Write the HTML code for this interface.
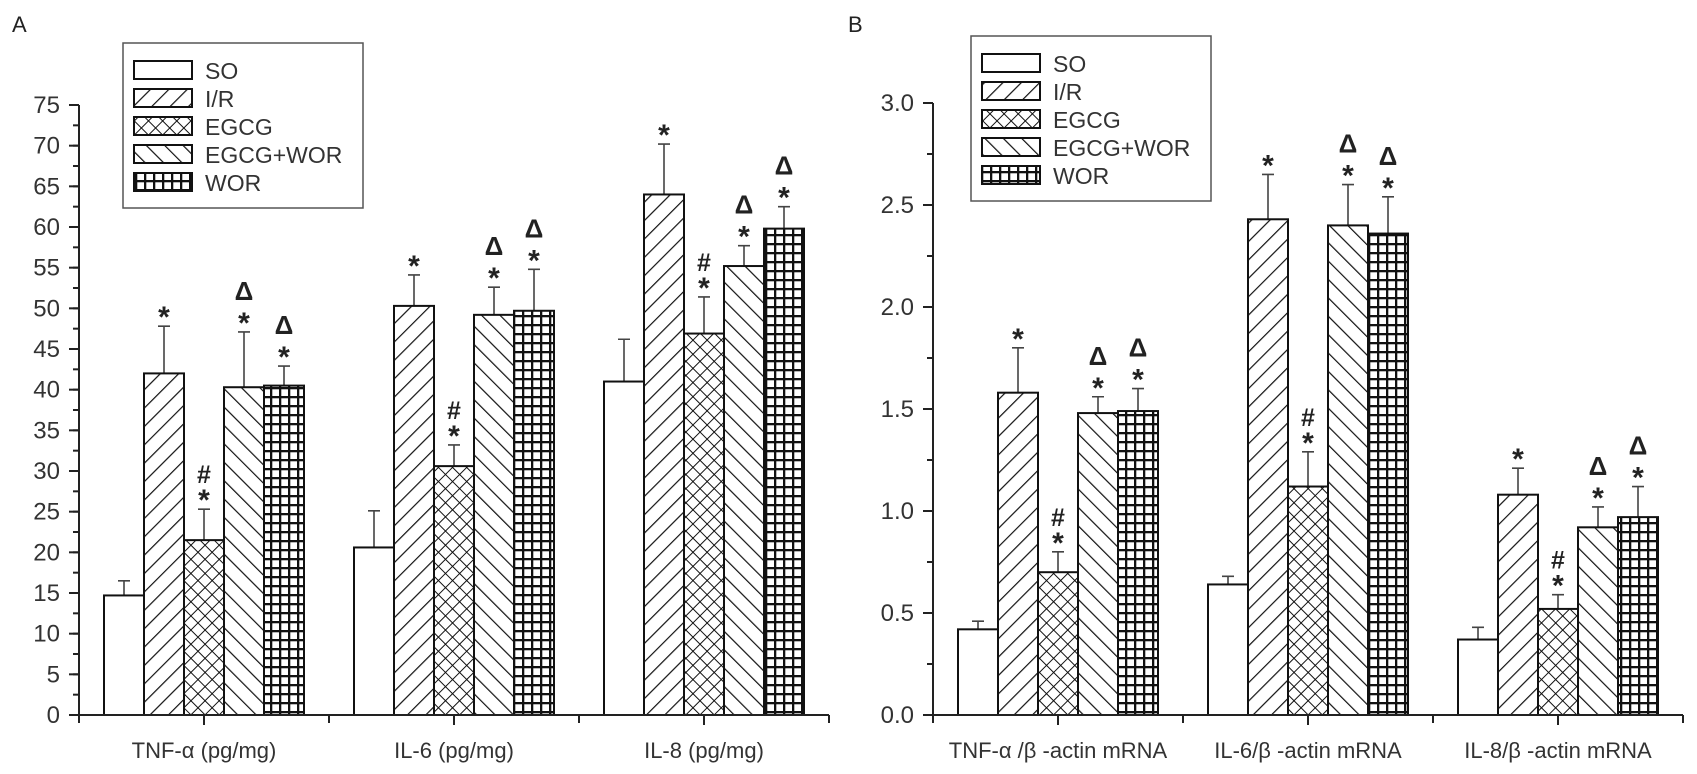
<!DOCTYPE html>
<html><head><meta charset="utf-8"><style>
html,body{margin:0;padding:0;background:#fff;}
svg{display:block;font-family:"Liberation Sans",Arial,sans-serif;}
</style></head><body>
<svg id="chart" width="1697" height="774" viewBox="0 0 1697 774" xmlns="http://www.w3.org/2000/svg">
<defs>
<pattern id="p-ir" patternUnits="userSpaceOnUse" width="13" height="13" patternTransform="rotate(45)"><rect width="13" height="13" fill="#fff"/><line x1="0" y1="0" x2="0" y2="13" stroke="#111" stroke-width="2.4"/></pattern>
<pattern id="p-egcg" patternUnits="userSpaceOnUse" width="10" height="10" patternTransform="rotate(45)"><rect width="10" height="10" fill="#fff"/><line x1="0" y1="0" x2="0" y2="10" stroke="#111" stroke-width="2"/><line x1="0" y1="0" x2="10" y2="0" stroke="#111" stroke-width="2"/></pattern>
<pattern id="p-ew" patternUnits="userSpaceOnUse" width="13" height="13" patternTransform="rotate(-45)"><rect width="13" height="13" fill="#fff"/><line x1="0" y1="0" x2="0" y2="13" stroke="#111" stroke-width="2.4"/></pattern>
<pattern id="p-wor" patternUnits="userSpaceOnUse" width="9" height="9"><rect width="9" height="9" fill="#fff"/><line x1="1" y1="0" x2="1" y2="9" stroke="#111" stroke-width="2.6"/><line x1="0" y1="1" x2="9" y2="1" stroke="#111" stroke-width="2.6"/></pattern>
</defs>
</svg>
<script>
const groups = ["SO","I/R","EGCG","EGCG+WOR","WOR"];
const catsA = ["TNF-α (pg/mg)","IL-6 (pg/mg)","IL-8 (pg/mg)"];
const catsB = ["TNF-α /β -actin mRNA","IL-6/β -actin mRNA","IL-8/β -actin mRNA"];
// values[category][group]
const meanA = [[14.7,42.0,21.5,40.3,40.5],[20.6,50.3,30.6,49.2,49.7],[41.0,64.0,46.9,55.2,59.8]];
const errA  = [[16.5,47.8,25.3,47.1,42.9],[25.1,54.1,33.2,52.6,54.8],[46.2,70.2,51.4,57.7,62.5]];
const meanB = [[0.42,1.58,0.70,1.48,1.49],[0.64,2.43,1.12,2.40,2.36],[0.37,1.08,0.52,0.92,0.97]];
const errB  = [[0.46,1.80,0.80,1.56,1.60],[0.68,2.65,1.29,2.60,2.54],[0.43,1.21,0.59,1.02,1.12]];
const ticksA = [0,5,10,15,20,25,30,35,40,45,50,55,60,65,70,75];
const ticksB = ["0.0","0.5","1.0","1.5","2.0","2.5","3.0"];
const marks = [[],["*"],["*","#"],["*","Δ"],["*","Δ"]];

const NS="http://www.w3.org/2000/svg";
const svg=document.getElementById('chart');
const fills=["#fff","url(#p-ir)","url(#p-egcg)","url(#p-ew)","url(#p-wor)"];
function el(tag,attrs,parent){const e=document.createElementNS(NS,tag);for(const k in attrs)e.setAttribute(k,attrs[k]);(parent||svg).appendChild(e);return e;}
function txt(s,attrs,parent){const t=el('text',attrs,parent);t.textContent=s;return t;}

function panel(id,x0,y0,ytop,ymax,tickVals,minorStep,cats,mean,err,label,labelX,legX,legY){
  const g=el('g',{});
  
  
  const catW=250, W=750;
  const yS=v=>y0-(v/ymax)*(y0-ytop);
  const xS=(c,s)=>x0+c*catW+25+s*40;
  const pl=txt(label,{x:labelX,y:32,'font-size':22,fill:'#222'},g);
  
  
  for(let c=0;c<cats.length;c++){
    for(let s=0;s<groups.length;s++){
      const x=xS(c,s), yt=yS(mean[c][s]), ye=yS(err[c][s]), cx=x+20;
      const eb=el('path',{d:`M${cx},${yt}V${ye}M${cx-6},${ye}H${cx+6}`,stroke:'#444','stroke-width':1.6,fill:'none'},g);
      
      
      const r=el('rect',{x:x,y:yt,width:40,height:y0-yt,fill:fills[s],stroke:'#111','stroke-width':2},g);
      
      
      const m=marks[s];
      if(m.length){
        const st=txt('*',{x:cx,y:ye+1,'text-anchor':'middle','font-size':30,'font-weight':'bold',fill:'#222'},g);
        
        
        if(m.length>1){
          const sy=m[1]==='#'?ye-26:ye-32;
          const s2=txt(m[1],{x:cx,y:sy,'text-anchor':'middle','font-size':m[1]==='#'?25:26,'font-weight':'bold',fill:'#222'},g);
          
          
        }
      }
    }
  }
  const ax=el('path',{d:`M${x0},${ytop}V${y0}H${x0+W}`,stroke:'#222','stroke-width':2,fill:'none'},g);
  
  
  for(let v=0;v<=ymax+1e-9;v+=minorStep){
    const y=yS(v);
    el('line',{x1:x0-6,x2:x0,y1:y,y2:y,stroke:'#222','stroke-width':2},g);
  }
  tickVals.forEach(t=>{
    const y=yS(parseFloat(t));
    el('line',{x1:x0-10,x2:x0,y1:y,y2:y,stroke:'#222','stroke-width':2},g);
    const tl=txt(String(t),{x:x0-19,y:y+8,'text-anchor':'end','font-size':24,fill:'#333'},g);
    
    
  });
  for(let c=0;c<=cats.length;c++){
    const xx=x0+c*catW;
    el('line',{x1:xx,x2:xx,y1:y0,y2:y0+8,stroke:'#222','stroke-width':2},g);
  }
  cats.forEach((cn,c)=>{
    const xx=x0+c*catW+catW/2;
    el('line',{x1:xx,x2:xx,y1:y0,y2:y0+10,stroke:'#222','stroke-width':2},g);
    const cl=txt(cn,{x:xx,y:758,'text-anchor':'middle','font-size':22,fill:'#333'},g);
    
    
  });
  const lg=el('g',{},g);
  
  
  el('rect',{x:legX,y:legY,width:240,height:165,fill:'#fff',stroke:'#555','stroke-width':1.5},lg);
  groups.forEach((gn,i)=>{
    const yy=legY+18+i*28;
    const e=el('g',{},lg);
    
    
    el('rect',{x:legX+11,y:yy,width:58,height:18,fill:fills[i],stroke:'#111','stroke-width':2},e);
    txt(gn,{x:legX+82,y:yy+18,'font-size':23,fill:'#333'},e);
  });
}
panel('a',79,715,105,75,ticksA,2.5,catsA,meanA,errA,'A',12,123,43);
panel('b',933,715,103,3,ticksB,0.25,catsB,meanB,errB,'B',848,971,36);
</script>
</body></html>
